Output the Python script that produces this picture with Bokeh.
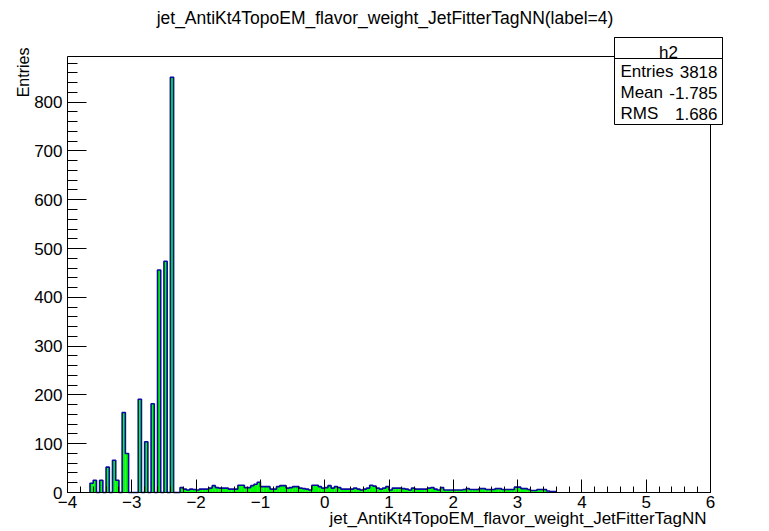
import numpy as np
from bokeh.plotting import figure
from bokeh.models import Range1d, SingleIntervalTicker, Label, BoxAnnotation
from bokeh.core.properties import value
from bokeh.embed import file_html
from bokeh.resources import INLINE

# ---------------- data ----------------
title_text = "jet_AntiKt4TopoEM_flavor_weight_JetFitterTagNN(label=4)"
x_title = "jet_AntiKt4TopoEM_flavor_weight_JetFitterTagNN"
y_title = "Entries"
hist_name = "h2"
stat_names = ["Entries", "Mean", "RMS"]
stat_values = ["3818", "-1.785", "1.686"]

x_min, x_max, bin_width = -4.0, 6.0, 0.05

peak_bin_low = [-3.65, -3.60, -3.50, -3.40, -3.30, -3.25, -3.15, -3.10,
                -2.90, -2.80, -2.70, -2.60, -2.50, -2.40]
peak_counts = [19, 25, 25, 52, 66, 25, 164, 80, 191, 104, 182, 456, 474, 851]

tail_start = -2.25
tail_counts = [10, 7, 5, 7, 6, 5, 7, 7, 7, 9,
               14, 10, 9, 9, 9, 7, 7, 7, 15, 15,
               10, 10, 14, 17, 21, 12, 12, 12, 7, 7,
               12, 14, 14, 9, 10, 12, 12, 9, 8, 7,
               5, 15, 15, 12, 9, 10, 14, 9, 12, 10,
               7, 7, 7, 7, 9, 7, 5, 7, 9, 15,
               13, 9, 7, 9, 12, 5, 9, 9, 9, 8,
               7, 5, 9, 7, 7, 7, 7, 9, 10, 7,
               5, 10, 5, 5, 5, 5, 5, 5, 6, 8,
               6, 6, 6, 8, 8, 6, 6, 6, 8, 8,
               6, 6, 6, 6, 11, 11, 8, 8, 6, 4,
               4, 6, 6, 6, 3, 2, 2]

# ---------------- build histogram ----------------
n_bins = int(round((x_max - x_min) / bin_width))
counts = np.zeros(n_bins)
for lo, c in zip(peak_bin_low, peak_counts):
    counts[int(round((lo - x_min) / bin_width))] = c
i0 = int(round((tail_start - x_min) / bin_width))
for k, c in enumerate(tail_counts):
    counts[i0 + k] = c
edges = x_min + bin_width * np.arange(n_bins + 1)
y_max = counts.max() * 1.05

# ---------------- geometry (page pixels) ----------------
W, H = 765, 529
FL, FR, FT, FB = 67, 710, 56, 492          # ROOT frame in page pixels
sx = (FR - FL) / (x_max - x_min)           # px per x unit
sy = (FB - FT) / y_max                     # px per count
FONT = "Liberation Sans"

def ux(px):
    return x_min + (px - FL) / sx

def uy(py):
    return (FB - py) / sy

p = figure(width=W, height=H, output_backend="svg", toolbar_location=None,
           x_range=Range1d(ux(0), ux(W)), y_range=Range1d(uy(H), uy(0)),
           min_border=0)
p.min_border_left = 0
p.min_border_right = 0
p.min_border_top = 0
p.min_border_bottom = 0
p.background_fill_color = "white"
p.border_fill_color = "white"
p.outline_line_color = None
p.xgrid.visible = False
p.ygrid.visible = False

# histogram fill
nz = counts > 0
p.quad(left=edges[:-1][nz], right=edges[1:][nz], bottom=0, top=counts[nz],
       fill_color="#00ff00", line_color=None)

# histogram outline
idx = np.nonzero(counts)[0]
first, last = idx[0], idx[-1]
xs = [edges[first]]
ys = [0.0]
for i in range(first, last + 1):
    xs += [edges[i], edges[i + 1]]
    ys += [counts[i], counts[i]]
xs.append(edges[last + 1])
ys.append(0.0)
p.line(xs, ys, line_color="#0a0a9e", line_width=1.6)

# frame top and right edges
p.line([x_min, x_max, x_max], [y_max, y_max, 0], line_color="black", line_width=1)

# axes placed at the frame edges
p.xaxis.fixed_location = 0
p.yaxis.fixed_location = x_min
p.xaxis.bounds = (x_min, x_max)
p.yaxis.bounds = (0, y_max)
p.xaxis.ticker = SingleIntervalTicker(interval=1, num_minor_ticks=5)
p.yaxis.ticker = SingleIntervalTicker(interval=100, num_minor_ticks=5)
for ax in (p.xaxis, p.yaxis):
    ax.axis_line_color = "black"
    ax.major_tick_line_color = "black"
    ax.minor_tick_line_color = "black"
    ax.major_tick_out = 0
    ax.minor_tick_out = 0
    ax.major_label_text_font = FONT
    ax.major_label_text_font_size = "17px"
    ax.major_label_text_color = "black"
p.xaxis.major_tick_in = 13
p.xaxis.minor_tick_in = 6
p.xaxis.major_label_standoff = 3
p.yaxis.major_tick_in = 19
p.yaxis.minor_tick_in = 10
p.yaxis.major_label_standoff = 5

def add_text(x, y, text, align="left", size="17px"):
    p.add_layout(Label(x=x, y=y, text=text, text_font=FONT, text_font_size=size,
                       text_align=align, text_baseline="middle", text_color="black"))

# titles
add_text(ux(384.5), uy(17), title_text, align="center", size="17.5px")
add_text(ux(706), uy(518), x_title, align="right", size="17px")
p.text(x=[ux(23)], y=[uy(47)], text=[y_title], angle=90, angle_units="deg",
       text_align="right", text_baseline="middle", text_font=value(FONT),
       text_font_size="16px", text_color="black")

# stats box
p.add_layout(BoxAnnotation(left=ux(614), right=ux(722), bottom=uy(124), top=uy(37),
                           fill_color="white", fill_alpha=1.0, line_color="black",
                           line_width=1, line_alpha=1.0))
p.add_layout(BoxAnnotation(left=ux(614), right=ux(722), bottom=uy(58), top=uy(37),
                           fill_color="white", fill_alpha=1.0, line_color="black",
                           line_width=1, line_alpha=1.0))
add_text(ux(668), uy(51.5), hist_name, align="center")
for j, (nm, vl) in enumerate(zip(stat_names, stat_values)):
    yy = uy(71 + 21 * j)
    add_text(ux(620), yy, nm, align="left")
    add_text(ux(717), yy, vl, align="right")

open("out.html", "w").write(file_html(p, INLINE))
